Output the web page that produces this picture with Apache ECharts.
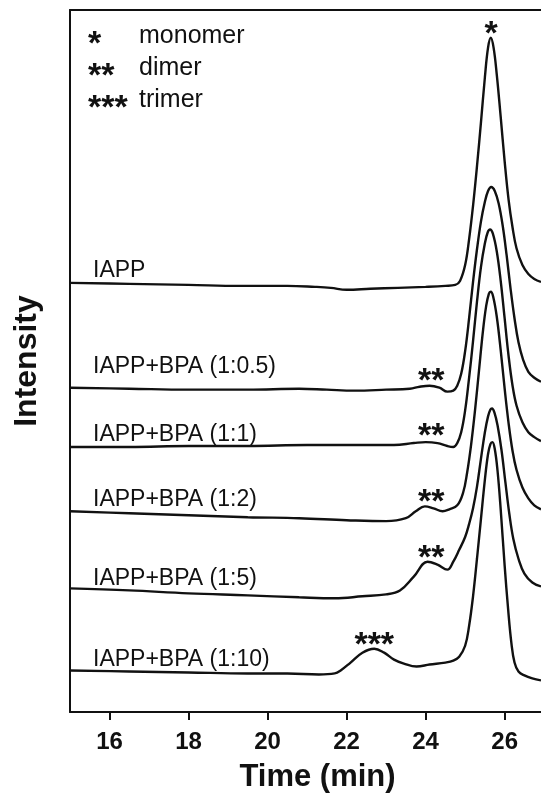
<!DOCTYPE html>
<html style="height: 100%">
<head>
<meta charset="utf-8">
</head>
<body style="height: 100%; margin: 0; background: #fff">
<div id="container" style="width: 541px; height: 798px"></div>
<script type="text/javascript" src="https://cdn.jsdelivr.net/npm/echarts@6/dist/echarts.min.js"></script>
<script type="text/javascript">
// chromatograms, [time (min), intensity + vertical offset]
var iapp = [[15.0,434],[16.5,433],[18.0,432],[19.3,431],[20.5,431],[21.2,430],[21.6,429],[22.0,427],[22.6,428],[23.3,429],[24.0,430],[24.5,431],[24.75,432],[24.87,436],[25.0,452],[25.1,478],[25.2,512],[25.3,552],[25.4,596],[25.5,642],[25.58,672],[25.65,682],[25.72,672],[25.8,645],[25.9,602],[26.0,557],[26.1,518],[26.2,490],[26.3,469],[26.45,452],[26.6,443],[26.75,438],[26.92,435]];
var bpa05 = [[15.0,328],[16.5,327],[18.0,326],[19.5,326],[20.8,327],[21.5,326],[22.2,325],[23.0,326],[23.6,327],[23.85,329],[24.1,330],[24.35,328],[24.55,324],[24.7,325],[24.8,330],[24.9,342],[25.0,365],[25.1,398],[25.2,435],[25.3,468],[25.4,496],[25.5,516],[25.58,527],[25.66,531],[25.75,527],[25.85,514],[25.95,492],[26.05,462],[26.15,428],[26.25,398],[26.35,374],[26.47,356],[26.6,344],[26.75,338],[26.92,334]];
var bpa1 = [[15.0,268],[16.5,268],[18.0,269],[19.5,269],[21.0,270],[22.4,270],[23.2,270],[23.7,272],[24.0,273],[24.3,272],[24.55,269],[24.7,268],[24.8,272],[24.9,283],[25.0,305],[25.1,338],[25.2,375],[25.3,415],[25.4,450],[25.5,474],[25.57,485],[25.63,488],[25.7,484],[25.8,466],[25.9,436],[26.0,398],[26.1,360],[26.2,330],[26.3,310],[26.45,293],[26.6,283],[26.75,278],[26.92,274]];
var bpa2 = [[15.0,203],[16.5,201],[18.0,199],[19.5,197],[20.8,196],[22.0,194],[23.0,193],[23.5,196],[23.75,203],[23.98,208],[24.2,206],[24.43,203],[24.6,205],[24.8,209],[24.95,222],[25.05,242],[25.15,270],[25.25,305],[25.35,345],[25.45,385],[25.53,410],[25.6,423],[25.65,425],[25.71,420],[25.8,400],[25.9,366],[26.0,327],[26.1,292],[26.2,264],[26.3,245],[26.45,227],[26.6,216],[26.75,209],[26.92,205]];
var bpa5 = [[15.0,125],[16.5,123],[18.0,120],[19.5,118],[20.8,116],[21.7,115],[22.4,117],[23.0,119],[23.35,123],[23.7,137],[24.05,152],[24.3,149],[24.55,144],[24.7,152],[24.85,164],[25.0,177],[25.1,190],[25.2,206],[25.3,228],[25.4,256],[25.5,283],[25.58,299],[25.64,306],[25.68,307],[25.74,303],[25.82,290],[25.92,265],[26.02,232],[26.12,200],[26.22,175],[26.35,155],[26.5,140],[26.7,131],[26.92,127]];
var bpa10 = [[15.0,42],[16.5,41],[18.0,40],[19.5,39],[20.5,39],[21.3,38],[21.7,39],[21.85,42],[22.1,50],[22.4,60],[22.7,64],[22.95,60],[23.2,53],[23.45,49],[23.77,46],[24.1,48],[24.5,50],[24.7,52],[24.85,56],[25.0,67],[25.1,87],[25.2,117],[25.3,155],[25.4,195],[25.5,235],[25.58,261],[25.64,271],[25.69,273],[25.75,266],[25.82,244],[25.9,205],[26.0,148],[26.09,103],[26.17,70],[26.25,50],[26.35,41],[26.5,37],[26.7,34],[26.92,32]];

var traces = [iapp, bpa05, bpa1, bpa2, bpa5, bpa10];
var sampleNames = ['IAPP', 'IAPP+BPA (1:0.5)', 'IAPP+BPA (1:1)', 'IAPP+BPA (1:2)', 'IAPP+BPA (1:5)', 'IAPP+BPA (1:10)'];
var timeTicks = [16, 18, 20, 22, 24, 26];

// asterisk marks: [time, level, text]
var peakMarks = [
    [[25.66, 692, '*']],
    [[24.14, 341, '**']],
    [[24.14, 286, '**']],
    [[24.14, 219, '**']],
    [[24.14, 162, '**']],
    [[22.70, 74, '***']]
];
var keyRows = [['*', 'monomer'], ['**', 'dimer'], ['***', 'trimer']];

var dom = document.getElementById('container');
var myChart = echarts.init(dom);

var ink = '#111';
var sans = '"Liberation Sans", Arial, sans-serif';
var labelTop = [272, 368, 436, 501, 580, 661];

var series = traces.map(function (d, i) {
    return {
        type: 'line',
        data: d,
        showSymbol: false,
        smooth: 0.4,
        silent: true,
        lineStyle: { color: ink, width: 2.4 },
        markPoint: {
            symbol: 'circle',
            symbolSize: 0,
            silent: true,
            label: {
                show: true,
                position: 'inside',
                offset: [0, 7],
                color: ink,
                fontFamily: sans,
                fontWeight: 'bold',
                fontSize: 34,
                formatter: function (p) { return p.data.txt; }
            },
            data: peakMarks[i].map(function (m) {
                return { coord: [m[0], m[1]], txt: m[2] };
            })
        }
    };
});

var graphics = [];
sampleNames.forEach(function (name, i) {
    graphics.push({
        type: 'text',
        left: 93,
        top: labelTop[i] - 13,
        style: { text: name, font: '23px ' + sans, fill: ink }
    });
});
keyRows.forEach(function (row, i) {
    graphics.push({
        type: 'text',
        left: 88,
        top: 28 + i * 32,
        style: { text: row[0], font: 'bold 34px ' + sans, fill: ink }
    });
    graphics.push({
        type: 'text',
        left: 139,
        top: 24 + i * 32,
        style: { text: row[1], font: '25px ' + sans, fill: ink }
    });
});

var option = {
    animation: false,
    backgroundColor: '#fff',
    grid: { left: 70, right: 0, top: 10, bottom: 78 },
    xAxis: [{
        type: 'value',
        min: 15,
        max: 26.92,
        axisLine: { lineStyle: { color: ink, width: 2 } },
        axisTick: { customValues: timeTicks, length: 8, lineStyle: { color: ink, width: 2 } },
        axisLabel: {
            customValues: timeTicks,
            margin: 18,
            color: ink,
            fontFamily: sans,
            fontWeight: 'bold',
            fontSize: 24
        },
        splitLine: { show: false },
        name: 'Time (min)',
        nameLocation: 'middle',
        nameGap: 50,
        nameTextStyle: {
            color: ink,
            fontFamily: sans,
            fontWeight: 'bold',
            fontSize: 31,
            padding: [0, 0, 0, 24]
        }
    }, {
        type: 'value',
        position: 'top',
        min: 15,
        max: 26.92,
        axisLine: { lineStyle: { color: ink, width: 2 } },
        axisTick: { show: false },
        axisLabel: { show: false },
        splitLine: { show: false }
    }],
    yAxis: {
        type: 'value',
        min: 0,
        max: 710,
        axisLine: { show: true, lineStyle: { color: ink, width: 2 } },
        axisTick: { show: false },
        axisLabel: { show: false },
        splitLine: { show: false },
        name: 'Intensity',
        nameLocation: 'middle',
        nameGap: 27,
        nameTextStyle: {
            color: ink,
            fontFamily: sans,
            fontWeight: 'bold',
            fontSize: 32
        }
    },
    graphic: graphics,
    series: series
};

myChart.setOption(option);
</script>
</body>
</html>
